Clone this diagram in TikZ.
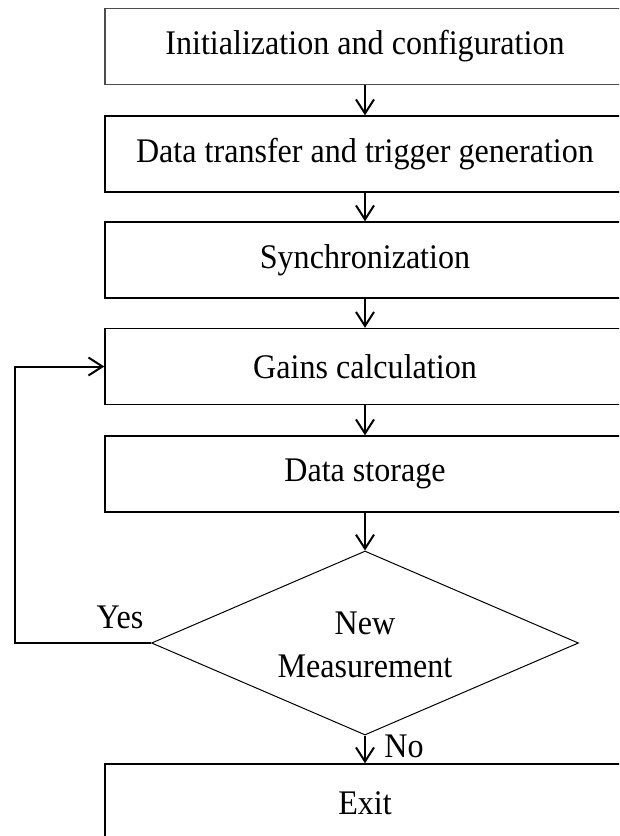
\documentclass[tikz,border=0pt]{standalone}
\usepackage{fontspec}
\setmainfont[FakeStretch=0.93]{Liberation Serif}
\usetikzlibrary{arrows.meta,shapes.geometric}
\begin{document}
\begin{tikzpicture}[x=1pt,y=-1pt,
  every node/.style={font=\fontsize{34.5}{43}\selectfont},
  stepbox/.style={draw=black, line width=1.4pt, minimum width=520pt, minimum height=76pt, inner sep=0pt, anchor=center},
  flow/.style={line width=2pt, -{Straight Barb[length=14pt,width=18pt,line width=2pt]}},
  lbl/.style={inner sep=0pt, anchor=base}]
\useasboundingbox (0,0) rectangle (619,836);
\clip (0,0) rectangle (619,836);
\node[stepbox, draw=black!70, line width=1.6pt] (b1) at (365,46.5) {Initialization and configuration};
\node[stepbox] (b2) at (365,154) {Data transfer and trigger generation};
\node[stepbox] (b3) at (365,260) {Synchronization};
\node[stepbox] (b4) at (365,366.5) {Gains calculation};
\node[stepbox] (b5) at (365,474) {Data storage};
\node[draw, diamond, line width=1pt, minimum width=427pt, minimum height=184pt, inner sep=0pt] (dec) at (365,643) {};
\node[align=center, inner sep=0pt] (dect) at (365,645) {New\\Measurement};
\node[stepbox, minimum height=90pt] (ex) at (365,809) {};
\node[inner sep=0pt] (ext) at (365,803) {Exit};
\coordinate (lp) at (15,643);
\draw[flow] (b1) -- (b2);
\draw[flow] (b2) -- (b3);
\draw[flow] (b3) -- (b4);
\draw[flow] (b4) -- (b5);
\draw[flow] (b5) -- (dec.north);
\draw[flow] (dec.south) -- (ex.north);
\draw[flow] (dec.west) -- (lp) |- (b4.west);
\node[lbl] (yes) at (120,628) {Yes};
\node[lbl] (no) at (404,757) {No};
\end{tikzpicture}
\end{document}
